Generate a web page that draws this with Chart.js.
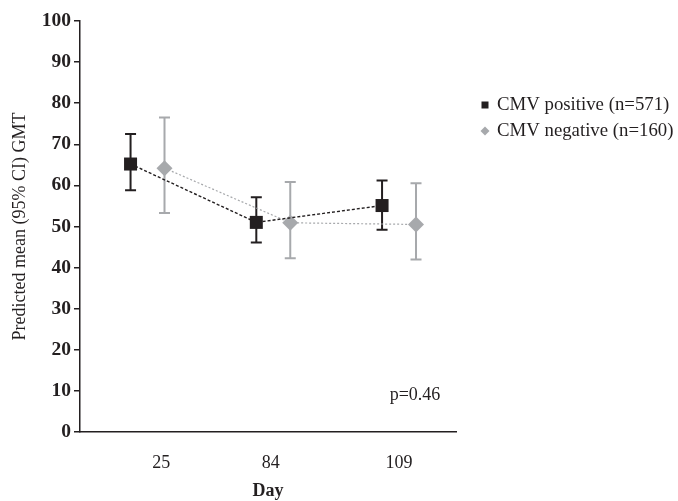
<!DOCTYPE html>
<html>
<head>
<meta charset="utf-8">
<script src="https://cdn.jsdelivr.net/npm/chart.js@4.4.1/dist/chart.umd.min.js"></script>
<style>
  html, body { margin: 0; padding: 0; background: #fff; }
</style>
</head>
<body>
<canvas id="chart" width="678" height="501"></canvas>
<script>
const days = ['25', '84', '109'];
const yTicks = [0, 10, 20, 30, 40, 50, 60, 70, 80, 90, 100];

const posLabel = 'CMV positive (n=571)';
const posMean = [65.2, 51.0, 55.1];
const posLow = [58.8, 46.1, 49.2];
const posHigh = [72.5, 57.1, 61.2];

const negLabel = 'CMV negative (n=160)';
const negMean = [64.2, 50.9, 50.5];
const negLow = [53.3, 42.3, 42.0];
const negHigh = [76.5, 60.8, 60.5];

const pValue = 'p=0.46';

const DARK = '#231f20';
const GREY = '#a7a9ac';
const FONT = '"Liberation Serif", "Times New Roman", serif';

// the two groups sit either side of each day
const shift = 0.135;
const pts = (vals, d) => vals.map((v, i) => ({ x: i + d, y: v }));

const errorBars = {
  id: 'errorBars',
  beforeDatasetsDraw(chart) {
    const ctx = chart.ctx;
    const y = chart.scales.y;
    chart.data.datasets.forEach((ds, di) => {
      const meta = chart.getDatasetMeta(di);
      ctx.save();
      ctx.strokeStyle = ds.barColor;
      ctx.lineWidth = 2;
      meta.data.forEach((p, i) => {
        const top = y.getPixelForValue(ds.high[i]);
        const bot = y.getPixelForValue(ds.low[i]);
        ctx.beginPath();
        ctx.moveTo(p.x, top); ctx.lineTo(p.x, bot);
        ctx.moveTo(p.x - 5.5, top); ctx.lineTo(p.x + 5.5, top);
        ctx.moveTo(p.x - 5.5, bot); ctx.lineTo(p.x + 5.5, bot);
        ctx.stroke();
      });
      ctx.restore();
    });
  }
};

const notes = {
  id: 'notes',
  afterDraw(chart) {
    const ctx = chart.ctx;
    ctx.save();
    ctx.font = '18px ' + FONT;
    ctx.fillStyle = DARK;
    ctx.textBaseline = 'middle';
    ctx.textAlign = 'center';
    ctx.fillText(pValue, 415, 395);
    // legend
    ctx.font = '18.8px ' + FONT;
    ctx.textAlign = 'left';
    ctx.fillRect(481.5, 101.5, 7, 7);
    ctx.fillText(posLabel, 497, 105);
    ctx.fillStyle = GREY;
    ctx.beginPath();
    ctx.moveTo(485, 126.5); ctx.lineTo(489.5, 131); ctx.lineTo(485, 135.5); ctx.lineTo(480.5, 131);
    ctx.closePath(); ctx.fill();
    ctx.fillStyle = DARK;
    ctx.fillText(negLabel, 497, 131);
    ctx.restore();
  }
};

new Chart(document.getElementById('chart'), {
  type: 'line',
  data: {
    datasets: [
      {
        label: posLabel,
        data: pts(posMean, -shift),
        low: posLow, high: posHigh,
        barColor: DARK,
        borderColor: DARK,
        borderWidth: 1.4,
        borderDash: [3, 2],
        pointStyle: 'rect',
        pointRadius: 9.2,
        pointBackgroundColor: DARK,
        pointBorderWidth: 0
      },
      {
        label: negLabel,
        data: pts(negMean, shift),
        low: negLow, high: negHigh,
        barColor: GREY,
        borderColor: GREY,
        borderWidth: 1.2,
        borderDash: [2, 2],
        pointStyle: 'rectRot',
        pointRadius: 8,
        pointBackgroundColor: GREY,
        pointBorderWidth: 0
      }
    ]
  },
  options: {
    responsive: false,
    animation: false,
    layout: { padding: { left: 0, top: 21, right: 222, bottom: 0 } },
    plugins: { legend: { display: false }, tooltip: { enabled: false } },
    scales: {
      x: {
        type: 'linear',
        min: -0.537,
        max: 2.453,
        afterFit: s => { s.height = 69; },
        afterBuildTicks: s => { s.ticks = [0.11, 0.98, 2.0].map(v => ({ value: v })); },
        ticks: {
          callback: (v, i) => days[i],
          color: DARK,
          font: { family: FONT, size: 18 },
          padding: 20,
          maxRotation: 0
        },
        grid: { drawOnChartArea: false, drawTicks: false },
        border: { color: DARK, width: 1.5 },
        title: {
          display: true,
          text: 'Day',
          color: DARK,
          font: { family: FONT, size: 18, weight: 'bold' },
          padding: { top: 0, bottom: -1.5 }
        }
      },
      y: {
        min: 0,
        max: 100,
        afterFit: s => { s.width = 80; },
        afterBuildTicks: s => { s.ticks = yTicks.map(v => ({ value: v })); },
        ticks: {
          color: DARK,
          font: { family: FONT, size: 19.5, weight: 'bold' },
          padding: 3
        },
        grid: { drawOnChartArea: false, drawTicks: true, tickLength: 6, color: DARK, lineWidth: 1.5 },
        border: { color: DARK, width: 1.5 },
        title: {
          display: true,
          text: 'Predicted mean (95% CI) GMT',
          color: DARK,
          font: { family: FONT, size: 18 },
          padding: { top: 9, bottom: 0 }
        }
      }
    }
  },
  plugins: [errorBars, notes]
});
</script>
</body>
</html>
